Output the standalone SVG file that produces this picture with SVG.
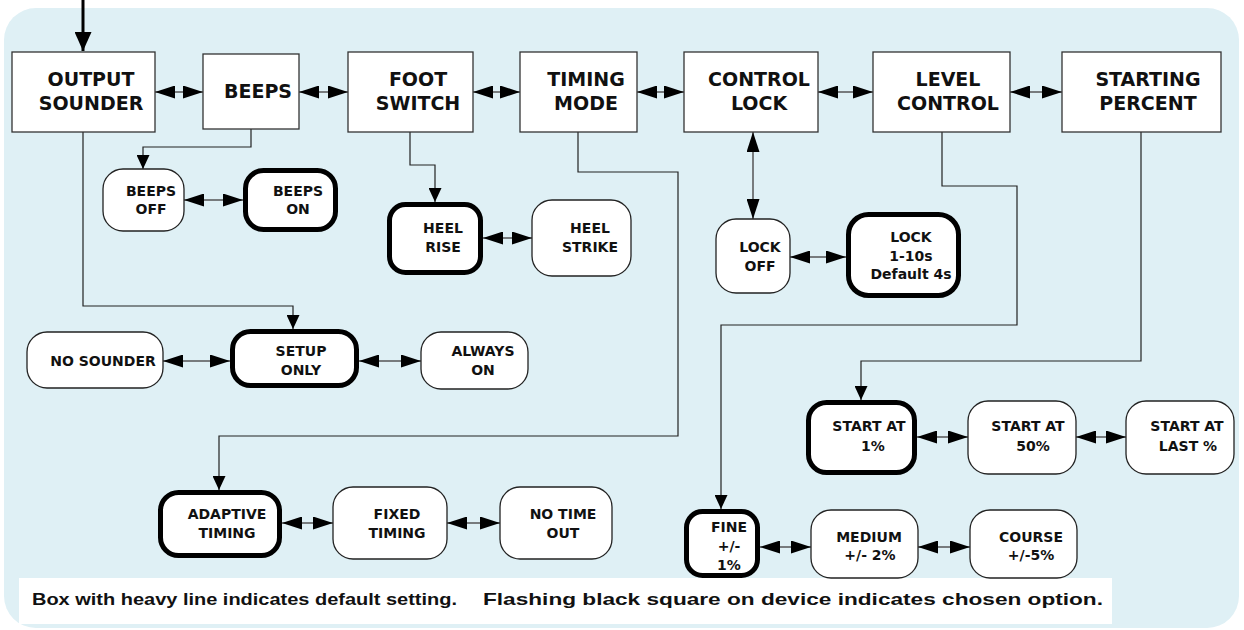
<svg xmlns="http://www.w3.org/2000/svg" width="1244" height="630" viewBox="0 0 1244 630">
<style>
.bg{fill:#dff0f5}
.box{fill:#fff;stroke:#333;stroke-width:1.3}
.opt{fill:#fff;stroke:#222;stroke-width:1.3}
.def{fill:#fff;stroke:#000;stroke-width:5}
.t{font-family:"DejaVu Sans",Verdana,sans-serif;font-weight:bold;text-anchor:middle;fill:#111}
.big{font-size:19px}
.sm{font-size:14px}
.conn{stroke:#222;stroke-width:1.2;fill:none}
.dbl{stroke:#555;stroke-width:1.5;fill:none;marker-start:url(#dh);marker-end:url(#dh)}
.foot{font-family:"Liberation Sans",Arial,sans-serif;font-weight:bold;font-size:17px;fill:#111}
</style>
<defs>
<marker id="dh" viewBox="0 0 20 13" refX="20" refY="6.5" markerWidth="20" markerHeight="13" markerUnits="userSpaceOnUse" orient="auto-start-reverse"><path d="M0,0 L20,6.5 L0,13 z" fill="#000"/></marker>
<marker id="sa" viewBox="0 0 14 13" refX="14" refY="6.5" markerWidth="14" markerHeight="13" markerUnits="userSpaceOnUse" orient="auto"><path d="M0,0 L14,6.5 L0,13 z" fill="#000"/></marker>
<marker id="ba" viewBox="0 0 19 17" refX="19" refY="8.5" markerWidth="19" markerHeight="17" markerUnits="userSpaceOnUse" orient="auto"><path d="M0,0 L19,8.5 L0,17 z" fill="#000"/></marker>
</defs>
<rect class="bg" x="4" y="8" width="1235" height="620" rx="32"/>
<rect x="19" y="578" width="1093" height="46" fill="#fff"/>
<g id="connectors">
<line x1="83" y1="0" x2="83" y2="51" stroke="#000" stroke-width="3" marker-end="url(#ba)"/>
<path class="conn" d="M83,132 V306 H293 V329" marker-end="url(#sa)"/>
<path class="conn" d="M251,129 V147 H143 V169" marker-end="url(#sa)"/>
<path class="conn" d="M410,132 V165 H435 V202" marker-end="url(#sa)"/>
<path class="conn" d="M578,132 V172 H678 V436 H219 V490" marker-end="url(#sa)"/>
<path class="conn" d="M942,132 V186 H1017 V325 H721 V509" marker-end="url(#sa)"/>
<path class="conn" d="M1141,132 V361 H861 V400" marker-end="url(#sa)"/>
<line class="dbl" x1="753" y1="132" x2="753" y2="219"/>
<line class="dbl" x1="155" y1="92" x2="203" y2="92"/>
<line class="dbl" x1="299" y1="92" x2="348" y2="92"/>
<line class="dbl" x1="473" y1="92" x2="520" y2="92"/>
<line class="dbl" x1="637" y1="92" x2="684" y2="92"/>
<line class="dbl" x1="818" y1="92" x2="873" y2="92"/>
<line class="dbl" x1="1010" y1="92" x2="1062" y2="92"/>
<line class="dbl" x1="184" y1="200" x2="243" y2="200"/>
<line class="dbl" x1="483" y1="238" x2="532" y2="238"/>
<line class="dbl" x1="790" y1="257" x2="846" y2="257"/>
<line class="dbl" x1="163" y1="361" x2="230" y2="361"/>
<line class="dbl" x1="359" y1="361" x2="421" y2="361"/>
<line class="dbl" x1="917" y1="437" x2="968" y2="437"/>
<line class="dbl" x1="1076" y1="437" x2="1126" y2="437"/>
<line class="dbl" x1="282" y1="523" x2="333" y2="523"/>
<line class="dbl" x1="447" y1="523" x2="500" y2="523"/>
<line class="dbl" x1="760" y1="547" x2="811" y2="547"/>
<line class="dbl" x1="918" y1="547" x2="970" y2="547"/>
</g>
<g id="output-sounder"><rect class="box" x="12" y="52" width="143" height="80"/><text class="t big" x="91" y="86">OUTPUT</text><text class="t big" x="91" y="110">SOUNDER</text></g>
<g id="beeps"><rect class="box" x="203" y="54" width="96" height="75"/><text class="t big" x="258" y="98">BEEPS</text></g>
<g id="foot-switch"><rect class="box" x="348" y="52" width="125" height="80"/><text class="t big" x="418" y="86">FOOT</text><text class="t big" x="418" y="110">SWITCH</text></g>
<g id="timing-mode"><rect class="box" x="520" y="52" width="117" height="80"/><text class="t big" x="586" y="86">TIMING</text><text class="t big" x="586" y="110">MODE</text></g>
<g id="control-lock"><rect class="box" x="684" y="52" width="134" height="80"/><text class="t big" x="759" y="86">CONTROL</text><text class="t big" x="759" y="110">LOCK</text></g>
<g id="level-control"><rect class="box" x="873" y="52" width="137" height="80"/><text class="t big" x="948" y="86">LEVEL</text><text class="t big" x="948" y="110">CONTROL</text></g>
<g id="starting-percent"><rect class="box" x="1062" y="52" width="159" height="80"/><text class="t big" x="1148" y="86">STARTING</text><text class="t big" x="1148" y="110">PERCENT</text></g>

<g id="beeps-off"><rect class="opt" x="103" y="169" width="81" height="62" rx="20"/><text class="t sm" x="151" y="196">BEEPS</text><text class="t sm" x="151" y="214">OFF</text></g>
<g id="beeps-on"><rect class="def" x="245.5" y="170.5" width="90" height="59" rx="18"/><text class="t sm" x="298" y="196">BEEPS</text><text class="t sm" x="298" y="214">ON</text></g>
<g id="heel-rise"><rect class="def" x="389.5" y="204.5" width="91" height="68" rx="16"/><text class="t sm" x="443" y="233">HEEL</text><text class="t sm" x="443" y="252">RISE</text></g>
<g id="heel-strike"><rect class="opt" x="532" y="200" width="99" height="76" rx="20"/><text class="t sm" x="590" y="233">HEEL</text><text class="t sm" x="590" y="252">STRIKE</text></g>
<g id="lock-off"><rect class="opt" x="716" y="219" width="74" height="74" rx="20"/><text class="t sm" x="760" y="252">LOCK</text><text class="t sm" x="760" y="271">OFF</text></g>
<g id="lock-on"><rect class="def" x="848.5" y="214.5" width="110" height="81" rx="20"/><text class="t sm" x="911" y="242">LOCK</text><text class="t sm" x="911" y="261">1-10s</text><text class="t sm" x="911" y="279">Default 4s</text></g>
<g id="no-sounder"><rect class="opt" x="27" y="332" width="136" height="56" rx="20"/><text class="t sm" x="103" y="366">NO SOUNDER</text></g>
<g id="setup-only"><rect class="def" x="232.5" y="331.5" width="124" height="54" rx="18"/><text class="t sm" x="301" y="356">SETUP</text><text class="t sm" x="301" y="375">ONLY</text></g>
<g id="always-on"><rect class="opt" x="421" y="332" width="107" height="57" rx="20"/><text class="t sm" x="483" y="356">ALWAYS</text><text class="t sm" x="483" y="375">ON</text></g>
<g id="start-1"><rect class="def" x="808.5" y="402.5" width="106" height="70" rx="18"/><text class="t sm" x="869" y="431">START AT</text><text class="t sm" x="873" y="451">1%</text></g>
<g id="start-50"><rect class="opt" x="968" y="401" width="108" height="73" rx="20"/><text class="t sm" x="1028" y="431">START AT</text><text class="t sm" x="1033" y="451">50%</text></g>
<g id="start-last"><rect class="opt" x="1126" y="401" width="108" height="73" rx="20"/><text class="t sm" x="1187" y="431">START AT</text><text class="t sm" x="1188" y="451">LAST %</text></g>
<g id="adaptive-timing"><rect class="def" x="160.5" y="492.5" width="119" height="63" rx="18"/><text class="t sm" x="227" y="519">ADAPTIVE</text><text class="t sm" x="227" y="538">TIMING</text></g>
<g id="fixed-timing"><rect class="opt" x="333" y="487" width="114" height="72" rx="20"/><text class="t sm" x="397" y="519">FIXED</text><text class="t sm" x="397" y="538">TIMING</text></g>
<g id="no-time-out"><rect class="opt" x="500" y="487" width="112" height="72" rx="20"/><text class="t sm" x="563" y="519">NO TIME</text><text class="t sm" x="563" y="538">OUT</text></g>
<g id="fine"><rect class="def" x="686.5" y="511.5" width="71" height="64" rx="16"/><text class="t sm" x="729" y="532">FINE</text><text class="t sm" x="729" y="551">+/-</text><text class="t sm" x="729" y="570">1%</text></g>
<g id="medium"><rect class="opt" x="811" y="510" width="107" height="68" rx="20"/><text class="t sm" x="869" y="542">MEDIUM</text><text class="t sm" x="870" y="560">+/- 2%</text></g>
<g id="course"><rect class="opt" x="970" y="510" width="107" height="68" rx="20"/><text class="t sm" x="1031" y="542">COURSE</text><text class="t sm" x="1031" y="560">+/-5%</text></g>

<g id="footer"><text class="foot" x="32" y="605" textLength="425" lengthAdjust="spacingAndGlyphs">Box with heavy line indicates default setting.</text><text class="foot" x="483" y="605" textLength="620" lengthAdjust="spacingAndGlyphs">Flashing black square on device indicates chosen option.</text></g>
</svg>
